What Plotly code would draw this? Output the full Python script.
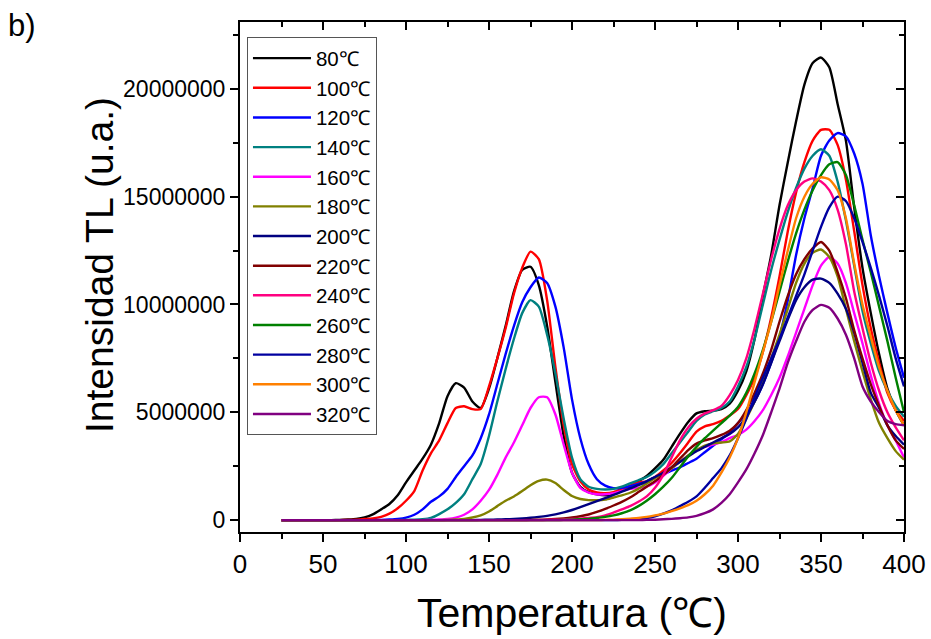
import plotly.graph_objects as go

# Readout temperature grid (°C)
temperature = [25, 30, 35, 40, 45, 50, 55, 60, 65, 70, 75, 80, 85, 90, 95, 100,
               105, 110, 115, 120, 125, 130, 135, 140, 145, 150, 155, 160, 165, 170,
               175, 180, 185, 190, 195, 200, 205, 210, 215, 220, 225, 230, 235, 240,
               245, 250, 255, 260, 265, 270, 275, 280, 285, 290, 295, 300, 305, 310,
               315, 320, 325, 330, 335, 340, 345, 350, 355, 360, 365, 370, 375, 380,
               385, 390, 395, 400]

# TL glow curves, intensity in millions of a.u., one list per preheat temperature
tl_80 = [0] * 7 + [
    0.01, 0.03, 0.06, 0.13, 0.27, 0.5, 0.75, 1.15, 1.75, 2.3, 2.85, 3.5, 4.5, 5.75,
    6.35, 6.15, 5.5, 5.2, 6.1, 7.5, 9.0, 10.6, 11.6, 11.75, 10.9, 9.0, 6.4, 3.9, 2.2,
    1.55, 1.3, 1.2, 1.15, 1.2, 1.35, 1.55, 1.8, 2.05, 2.4, 2.8, 3.4, 4.0, 4.55, 4.95,
    5.05, 5.08, 5.15, 5.4, 6.0, 6.9, 8.4, 10.4, 12.3, 14.6, 16.6, 18.5, 20.2, 21.2,
    21.45, 21.0, 19.3, 17.6, 14.5, 11.7, 9.6, 7.7, 6.1, 5.1, 4.4]
tl_100 = [0] * 8 + [
    0.01, 0.02, 0.05, 0.08, 0.15, 0.3, 0.55, 0.9, 1.35, 2.3, 3.1, 3.7, 4.5, 5.2, 5.28,
    5.15, 5.15, 6.2, 7.5, 8.9, 10.5, 11.7, 12.45, 12.1, 10.2, 7.1, 4.4, 2.6, 1.8,
    1.42, 1.28, 1.25, 1.3, 1.45, 1.6, 1.75, 1.8, 2.0, 2.3, 2.65, 3.1, 3.6, 4.1, 4.35,
    4.45, 4.6, 4.85, 5.15, 5.8, 6.6, 7.8, 9.4, 11.3, 13.4, 15.2, 16.6, 17.6, 18.1,
    18.1, 17.4, 15.8, 13.4, 10.9, 8.9, 7.3, 5.9, 5.1, 4.6]
tl_120 = [0] * 12 + [
    0.01, 0.03, 0.06, 0.12, 0.25, 0.5, 0.85, 1.1, 1.45, 2.0, 2.5, 3.0, 3.8, 4.9, 6.3,
    7.7, 9.0, 10.1, 10.8, 11.25, 11.0, 9.9, 8.0, 5.6, 3.8, 2.6, 1.9, 1.6, 1.48, 1.5,
    1.58, 1.68, 1.8, 2.0, 2.12, 2.3, 2.45, 2.65, 2.85, 3.15, 3.45, 3.75, 4.05, 4.5,
    4.95, 5.5, 6.3, 7.3, 8.5, 10.2, 12.3, 14.0, 15.4, 16.9, 17.6, 17.95, 17.8, 17.0,
    15.6, 13.2, 11.3, 9.6, 8.0, 6.6]
tl_140 = [0] * 15 + [
    0.01, 0.02, 0.04, 0.1, 0.28, 0.5, 0.8, 1.2, 1.9, 2.6, 3.9, 5.5, 7.0, 8.4, 9.6,
    10.2, 9.9, 8.6, 6.8, 4.7, 2.9, 1.9, 1.55, 1.45, 1.42, 1.45, 1.55, 1.7, 1.85, 2.0,
    2.25, 2.6, 3.1, 3.6, 4.1, 4.6, 4.9, 5.05, 5.2, 5.5, 6.2, 7.1, 8.4, 10.0, 11.6,
    13.0, 14.3, 15.4, 16.3, 16.9, 17.2, 16.9, 15.7, 13.9, 11.8, 9.7, 8.2, 6.9, 6.0,
    5.3, 4.8]
tl_160 = [0] * 18 + [
    0.01, 0.03, 0.06, 0.12, 0.25, 0.5, 0.9, 1.4, 2.1, 2.9, 3.6, 4.4, 5.2, 5.7, 5.7,
    4.9, 3.5, 2.2, 1.5, 1.28, 1.2, 1.2, 1.25, 1.35, 1.45, 1.5, 1.55, 1.75, 2.05, 2.4,
    2.7, 3.0, 3.25, 3.4, 3.5, 3.62, 3.8, 3.95, 4.2, 4.6, 5.1, 5.8, 6.6, 7.6, 8.7, 9.8,
    10.9, 11.8, 12.2, 11.9, 11.0, 9.6, 8.2, 6.7, 5.4, 4.4, 3.7, 2.9]
tl_180 = [0] * 20 + [
    0.01, 0.03, 0.06, 0.12, 0.22, 0.4, 0.65, 0.9, 1.1, 1.35, 1.62, 1.82, 1.88, 1.72,
    1.4, 1.12, 0.98, 0.93, 0.92, 0.95, 1.05, 1.15, 1.27, 1.45, 1.7, 1.95, 2.15, 2.4,
    2.7, 3.0, 3.25, 3.45, 3.56, 3.6, 3.65, 4.0, 4.7, 5.5, 6.4, 7.5, 8.6, 9.8, 11.0,
    11.9, 12.4, 12.55, 12.2, 11.3, 9.8, 8.3, 6.9, 5.6, 4.5, 3.8, 3.2, 2.8]
tl_200 = [0] * 24 + [
    0.01, 0.02, 0.03, 0.04, 0.06, 0.08, 0.11, 0.15, 0.2, 0.27, 0.36, 0.47, 0.6, 0.74,
    0.88, 1.02, 1.17, 1.32, 1.47, 1.62, 1.8, 2.0, 2.2, 2.45, 2.7, 2.95, 3.2, 3.4, 3.6,
    3.8, 4.0, 4.3, 4.8, 5.5, 6.3, 7.3, 8.3, 9.3, 10.2, 10.8, 11.15, 11.2, 11.0, 10.5,
    9.8, 8.7, 7.3, 5.9, 5.2, 4.4, 3.9, 3.5]
tl_220 = [0] * 30 + [
    0.01, 0.02, 0.03, 0.05, 0.08, 0.12, 0.18, 0.26, 0.38, 0.52, 0.68, 0.85, 1.05, 1.3,
    1.55, 1.8, 2.1, 2.45, 2.85, 3.25, 3.55, 3.7, 3.8, 3.95, 4.15, 4.5, 5.1, 5.9, 6.8,
    7.9, 9.2, 10.4, 11.4, 12.1, 12.6, 12.9, 12.5, 11.5, 10.3, 8.8, 7.5, 6.3, 5.3, 4.4,
    3.7, 3.3]
tl_240 = [0] * 32 + [
    0.01, 0.02, 0.03, 0.05, 0.07, 0.1, 0.14, 0.22, 0.35, 0.5, 0.65, 0.85, 1.1, 1.5,
    2.1, 2.9, 3.7, 4.3, 4.7, 4.95, 5.1, 5.3, 5.8, 6.5, 7.5, 8.9, 10.5, 12.1, 13.5,
    14.6, 15.3, 15.7, 15.85, 15.7, 15.3, 14.4, 12.8, 10.6, 8.9, 7.3, 6.0, 5.0, 4.3,
    3.7]
tl_260 = [0] * 34 + [
    0.01, 0.02, 0.04, 0.06, 0.1, 0.15, 0.22, 0.32, 0.45, 0.65, 0.9, 1.2, 1.55, 1.95,
    2.45, 2.95, 3.4, 3.8, 4.15, 4.5, 4.85, 5.25, 5.9, 6.8, 7.9, 9.2, 10.6, 12.0, 13.3,
    14.4, 15.3, 16.0, 16.5, 16.6, 16.0, 14.6, 13.0, 11.5, 9.9, 8.3, 6.6, 5.0]
tl_280 = [0] * 41 + [
    0.01, 0.03, 0.06, 0.1, 0.18, 0.3, 0.45, 0.65, 0.85, 1.1, 1.5, 1.95, 2.4, 3.0, 3.8,
    4.7, 5.7, 6.6, 7.5, 8.4, 9.4, 10.4, 11.4, 12.5, 13.6, 14.5, 15.0, 14.8, 14.0,
    12.9, 11.7, 10.4, 9.0, 7.5, 6.2]
tl_300 = [0] * 39 + [
    0.01, 0.02, 0.04, 0.07, 0.1, 0.15, 0.22, 0.3, 0.42, 0.55, 0.7, 0.9, 1.2, 1.6, 2.2,
    2.9, 3.8, 5.0, 6.4, 7.8, 9.2, 10.9, 12.5, 14.0, 15.0, 15.6, 15.9, 15.8, 15.3,
    14.0, 11.9, 10.0, 8.5, 7.1, 6.0, 5.1, 4.4]
tl_320 = [0] * 44 + [
    0.01, 0.02, 0.04, 0.06, 0.09, 0.13, 0.2, 0.32, 0.5, 0.8, 1.2, 1.75, 2.35, 3.1,
    3.95, 5.0, 6.1, 7.3, 8.3, 9.2, 9.75, 9.98, 9.85, 9.35, 8.6, 7.5, 6.2, 5.5, 5.0,
    4.6, 4.45, 4.4]

labels = ["80℃", "100℃", "120℃", "140℃", "160℃", "180℃", "200℃",
          "220℃", "240℃", "260℃", "280℃", "300℃", "320℃"]
series = [tl_80, tl_100, tl_120, tl_140, tl_160, tl_180, tl_200,
          tl_220, tl_240, tl_260, tl_280, tl_300, tl_320]
colors = ["#000000", "#FF0000", "#0000FF", "#008080", "#FF00FF", "#808000", "#000080",
          "#800000", "#FF0080", "#008000", "#0000A0", "#FF8000", "#800080"]

x_range = [0, 400]
y_range = [-0.55e6, 23.1e6]
FONT = "Liberation Sans, Arial, sans-serif"

fig = go.Figure()
for name, vals, col in zip(labels, series, colors):
    fig.add_trace(go.Scatter(
        x=temperature, y=[v * 1e6 for v in vals], mode="lines", name=name,
        legendgroup=name,
        line=dict(color=col, width=2.4, shape="spline", smoothing=0.6),
    ))

# transparent helper trace on the secondary axes so the inward top/right ticks get drawn
fig.add_trace(go.Scatter(x=[temperature[0]], y=[0], xaxis="x2", yaxis="y2",
                         mode="markers", marker=dict(size=1, opacity=0),
                         showlegend=False, hoverinfo="skip"))

frame = dict(tickwidth=1.5, tickcolor="black", showline=True, linecolor="black",
             linewidth=2, showgrid=False, zeroline=False, automargin=False)

fig.update_layout(
    width=931, height=639,
    margin=dict(l=240, r=27, t=22, b=107),
    paper_bgcolor="white", plot_bgcolor="white",
    showlegend=True,
    legend=dict(
        x=0.0105, y=0.97, xanchor="left", yanchor="top",
        bgcolor="white", bordercolor="#555555", borderwidth=1,
        font=dict(family=FONT, size=20.5, color="black"),
        itemwidth=58, tracegroupgap=0,
    ),
    xaxis=dict(
        range=x_range, dtick=50, tick0=0, ticks="outside", ticklen=8, mirror=True, **frame,
        tickfont=dict(family=FONT, size=26, color="black"),
        minor=dict(dtick=25, ticks="outside", ticklen=5, tickwidth=1.5, tickcolor="black"),
        title=dict(text="Temperatura (℃)", standoff=20,
                   font=dict(family=FONT, size=41, color="black")),
    ),
    yaxis=dict(
        range=y_range, dtick=5e6, tick0=0, ticks="outside", ticklen=8, mirror=True, **frame,
        tickformat="d",
        tickfont=dict(family=FONT, size=23, color="black"),
        minor=dict(dtick=2.5e6, ticks="outside", ticklen=5, tickwidth=1.5, tickcolor="black"),
    ),
    # top and right axes carry the inward-pointing ticks
    xaxis2=dict(
        range=x_range, overlaying="x", side="top", anchor="y2", dtick=50, tick0=0,
        ticks="inside", ticklen=8, showticklabels=False, **frame,
        minor=dict(dtick=25, ticks="inside", ticklen=5, tickwidth=1.5, tickcolor="black"),
    ),
    yaxis2=dict(
        range=y_range, overlaying="y", side="right", anchor="x2", dtick=5e6, tick0=0,
        ticks="inside", ticklen=8, showticklabels=False, **frame,
        minor=dict(dtick=2.5e6, ticks="inside", ticklen=5, tickwidth=1.5, tickcolor="black"),
    ),
    annotations=[
        dict(text="Intensidad TL (u.a.)", textangle=-90, xref="paper", yref="paper",
             x=-0.2116, y=0.5245, xanchor="center", yanchor="middle", showarrow=False,
             font=dict(family=FONT, size=39, color="black")),
        dict(text="b)", xref="paper", yref="paper", x=-0.352, y=1.032,
             xanchor="left", yanchor="top", showarrow=False,
             font=dict(family=FONT, size=31, color="black")),
    ],
)

fig.write_html("out.html")
